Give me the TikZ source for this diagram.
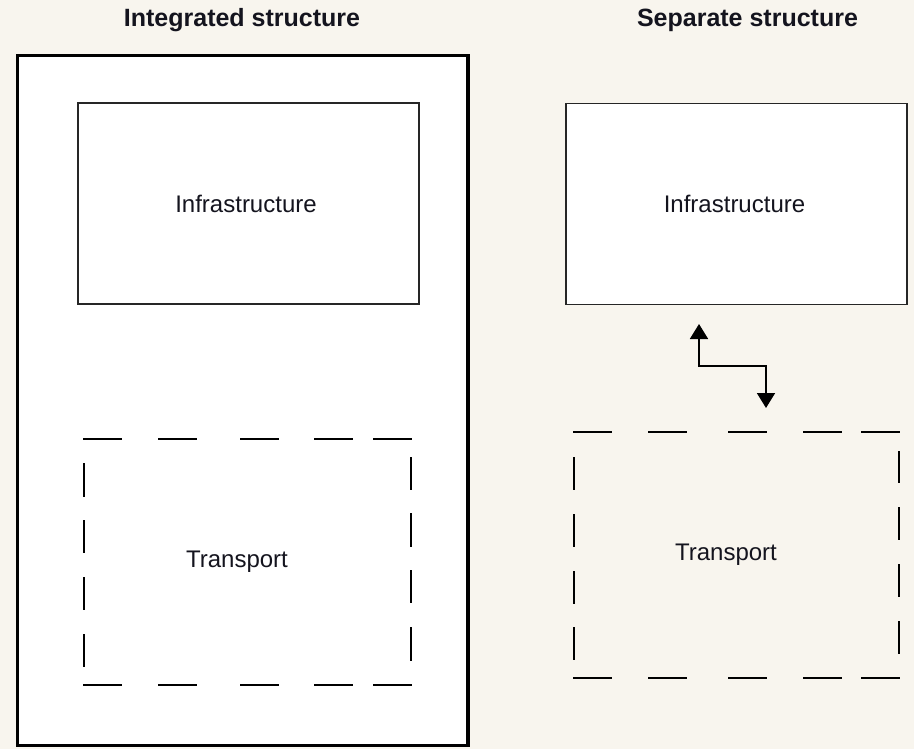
\documentclass[tikz,border=0pt]{standalone}
\usepackage{fontspec}
\setmainfont{Liberation Sans}
\usetikzlibrary{arrows.meta}
\definecolor{bgcream}{RGB}{248,245,238}
\definecolor{inkdark}{RGB}{20,20,30}
\tikzset{
  outerbox/.style={draw=black, line width=3.3pt, fill=white, minimum width=450.5pt, minimum height=690pt, inner sep=0pt},
  infrabox/.style={draw=black!85, line width=1.8pt, fill=white, minimum width=341pt, minimum height=201pt, inner sep=0pt},
  framebox/.style={minimum width=327pt, minimum height=246pt, inner sep=0pt},
  dashseg/.style={draw=black, line width=1.8pt},
  lbl/.style={font=\fontsize{24}{28}\selectfont, text=inkdark, inner sep=0pt},
  ttl/.style={font=\fontsize{25}{30}\selectfont\bfseries, text=inkdark, inner sep=0pt, anchor=base},
  linkarrow/.style={draw=black, line width=1.8pt, {Triangle[width=18pt,length=15pt]}-{Triangle[width=18pt,length=15pt]}}
}
\begin{document}
\begin{tikzpicture}[x=1pt,y=-1pt]
\fill[bgcream] (0,0) rectangle (914,749);
\useasboundingbox (0,0) rectangle (914,749);

% titles
\node[ttl] (titleL) at (242,27) {Integrated structure};
\node[ttl] (titleR) at (747.5,27) {Separate structure};

% integrated structure frame
\node[outerbox] (integrated) at (242.75,400.5) {};

% infrastructure boxes
\node[infrabox] (infraL) at (248.5,203.5) {};
\node[lbl] (infraLtext) at (246,203.5) {Infrastructure};
\node[infrabox] (infraR) at (736.5,204) {};
\node[lbl] (infraRtext) at (734.5,204) {Infrastructure};

% transport frames (dashed)
\node[framebox] (transL) at (247.5,562) {};
\node[lbl] (transLtext) at (237,562) {Transport};
\node[framebox] (transR) at (736.5,555) {};
\node[lbl] (transRtext) at (726,555) {Transport};

% left transport dashes
\foreach \a/\b in {83/122,158/197,240/279,314/353,373/412}{
  \draw[dashseg] (\a,439) -- (\b,439);
  \draw[dashseg] (\a,685) -- (\b,685);
}
\foreach \a/\b in {463/497,520/553,577/610,634/667}{
  \draw[dashseg] (84,\a) -- (84,\b);
}
\foreach \a/\b in {457/490,513/547,570/603,627/661}{
  \draw[dashseg] (411,\a) -- (411,\b);
}

% right transport dashes
\foreach \a/\b in {573/612,648/687,728/767,803/842,861/900}{
  \draw[dashseg] (\a,432) -- (\b,432);
  \draw[dashseg] (\a,678) -- (\b,678);
}
\foreach \a/\b in {457/490,514/547,571/604,627/660}{
  \draw[dashseg] (574,\a) -- (574,\b);
}
\foreach \a/\b in {451/483,507/540,564/597,621/654}{
  \draw[dashseg] (899,\a) -- (899,\b);
}

% connector between infrastructure and transport
\coordinate (linkTop) at (699,324);
\coordinate (linkBot) at (766,408);
\coordinate (linkMid) at (699,366);
\draw[linkarrow] (linkTop) -- (linkMid) -| (linkBot);
\end{tikzpicture}
\end{document}
